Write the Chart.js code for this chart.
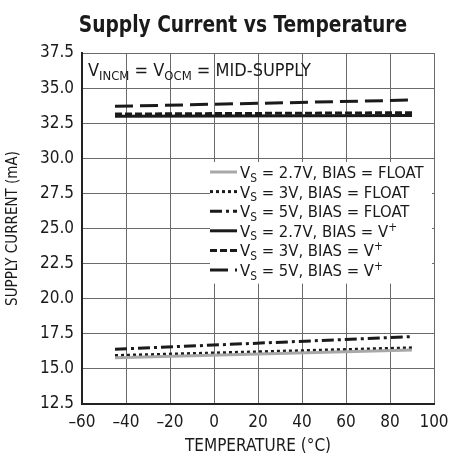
<!DOCTYPE html>
<html>
<head>
<meta charset="utf-8">
<script src="https://cdn.jsdelivr.net/npm/chart.js@4/dist/chart.umd.min.js"></script>
<style>
  html, body { margin: 0; padding: 0; background: #fff; }
  #wrap { width: 451px; height: 460px; }
</style>
</head>
<body>
<div id="wrap"><canvas id="supplyChart"></canvas></div>
<script>
const FONT = '"Liberation Sans Narrow", "DejaVu Sans Condensed", "Arial Narrow", sans-serif';

// temperature end points (°C)
const temps = [-45, 90];

// supply current (mA)
const vs27Float = [15.8, 16.35];
const vs3Float = [15.95, 16.5];
const vs5Float = [16.4, 17.3];
const vs27Vplus = [33.0, 33.05];
const vs3Vplus = [33.15, 33.25];
const vs5Vplus = [33.7, 34.15];

const supplies = ['2.7V', '3V', '5V', '2.7V', '3V', '5V'];
const biases = ['FLOAT', 'FLOAT', 'FLOAT', 'V+', 'V+', 'V+'];

const xTicks = [-60, -40, -20, 0, 20, 40, 60, 80, 100];

const TITLE = 'Supply Current vs Temperature';

function pts(ys) {
    return temps.map((t, i) => ({ x: t, y: ys[i] }));
}

function series(ys, color, dash) {
    return {
        data: pts(ys),
        borderColor: color,
        borderWidth: 3,
        borderDash: dash,
        pointRadius: 0,
        fill: false,
        tension: 0,
    };
}

// draw text made of normal / subscript / superscript pieces
function drawRich(ctx, x, y, parts, size) {
    parts.forEach(([txt, kind]) => {
        let s = size, dy = 0;
        if (kind === 'sub') { s = size * 0.72; dy = size * 0.22; }
        if (kind === 'sup') { s = size * 0.72; dy = -size * 0.38; }
        ctx.font = s + 'px ' + FONT;
        ctx.fillText(txt, x, y + dy);
        x += ctx.measureText(txt).width;
    });
}

function biasParts(b) {
    return b === 'V+' ? [['V', 'n'], ['+', 'sup']] : [[b, 'n']];
}

const notesPlugin = {
    id: 'notes',
    afterDraw(chart) {
        const ctx = chart.ctx;
        ctx.save();
        ctx.fillStyle = '#1a1a1a';
        ctx.textAlign = 'center';
        ctx.textBaseline = 'alphabetic';
        ctx.font = 'bold 23px ' + FONT;
        ctx.translate(243, 32);
        ctx.scale(0.9, 1);
        ctx.fillText(TITLE, 0, 0);
        ctx.restore();
    },
    afterDatasetsDraw(chart) {
        const ctx = chart.ctx;
        const area = chart.chartArea;
        ctx.save();
        ctx.fillStyle = '#1a1a1a';
        ctx.textBaseline = 'alphabetic';
        drawRich(ctx, area.left + 6, area.top + 23,
            [['V', 'n'], ['INCM', 'sub'], [' = V', 'n'], ['OCM', 'sub'], [' = MID-SUPPLY', 'n']], 18);

        // legend box
        const boxL = area.left + 128, boxT = area.top + 109, boxR = area.right - 2, rowH = 19.6;
        ctx.fillStyle = '#fff';
        ctx.fillRect(boxL, boxT, boxR - boxL, rowH * 6 + 4);
        chart.data.datasets.forEach((ds, i) => {
            const y = boxT + 10 + i * rowH;
            ctx.save();
            ctx.strokeStyle = ds.borderColor;
            ctx.lineWidth = ds.borderWidth;
            ctx.setLineDash(ds.borderDash || []);
            ctx.beginPath();
            ctx.moveTo(boxL, y);
            ctx.lineTo(boxL + 27, y);
            ctx.stroke();
            ctx.restore();
            ctx.fillStyle = '#1a1a1a';
            drawRich(ctx, boxL + 30, y + 6,
                [['V', 'n'], ['S', 'sub'], [' = ' + supplies[i] + ', BIAS = ', 'n']].concat(biasParts(biases[i])), 16.5);
        });
        ctx.restore();
    }
};

const supplyChart = new Chart(document.querySelector('#supplyChart'), {
    type: 'line',
    data: {
        datasets: [
            series(vs27Float, '#a8a8a8', []),
            series(vs3Float, '#1a1a1a', [3, 3]),
            series(vs5Float, '#1a1a1a', [12, 4, 3, 4]),
            series(vs27Vplus, '#1a1a1a', []),
            series(vs3Vplus, '#1a1a1a', [7, 3]),
            series(vs5Vplus, '#1a1a1a', [18, 7]),
        ],
    },
    options: {
        responsive: true,
        maintainAspectRatio: false,
        animation: false,
        layout: { padding: { left: 0, right: 17, top: 53, bottom: 0 } },
        plugins: {
            legend: { display: false },
            tooltip: { enabled: false },
            title: { display: false },
        },
        scales: {
            x: {
                type: 'linear',
                min: -60,
                max: 100,
                afterBuildTicks(scale) {
                    scale.ticks = xTicks.map(v => ({ value: v }));
                },
                afterFit(scale) {
                    scale.height = 56;
                    scale.paddingLeft = 0;
                    scale.paddingRight = 0;
                },
                grid: { color: '#6a6a6a', lineWidth: 1, drawTicks: false },
                border: { color: '#222', width: 2 },
                ticks: {
                    color: '#1a1a1a',
                    padding: 8,
                    font: { family: FONT, size: 17 },
                    callback: v => (v < 0 ? '\u2013' + Math.abs(v) : String(v)),
                },
                title: {
                    display: true,
                    text: 'TEMPERATURE (°C)',
                    color: '#1a1a1a',
                    font: { family: FONT, size: 17 },
                    padding: { top: 2, bottom: 3 },
                },
            },
            y: {
                min: 12.5,
                max: 37.5,
                afterFit(scale) { scale.width = 82; },
                grid: { color: '#6a6a6a', lineWidth: 1, drawTicks: false },
                border: { color: '#222', width: 2 },
                ticks: {
                    stepSize: 2.5,
                    color: '#1a1a1a',
                    padding: 8,
                    font: { family: FONT, size: 17 },
                    callback: v => v.toFixed(1),
                },
                title: {
                    display: true,
                    text: 'SUPPLY CURRENT (mA)',
                    color: '#1a1a1a',
                    font: { family: FONT, size: 15 },
                    padding: { top: 4, bottom: 0 },
                },
            },
        },
    },
    plugins: [notesPlugin],
});
</script>
</body>
</html>
